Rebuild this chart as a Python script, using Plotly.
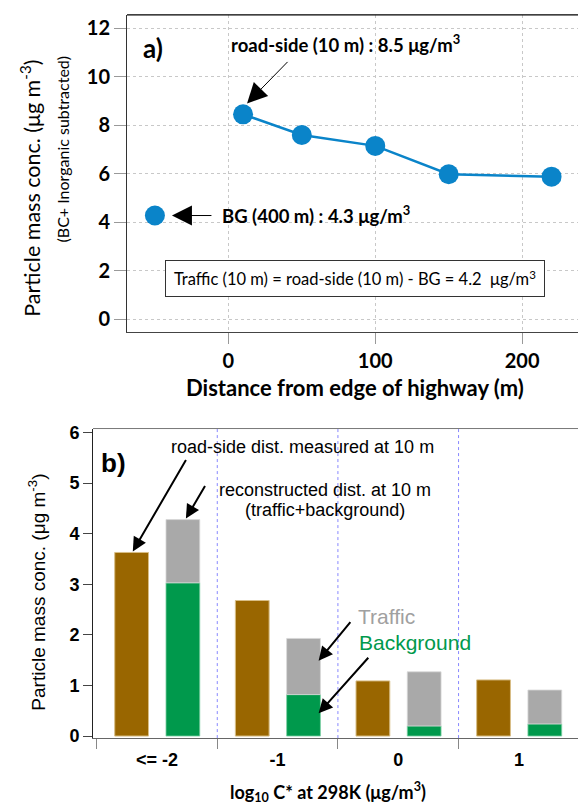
import plotly.graph_objects as go

# ---- Panel a data ----
dist_m = [10, 50, 100, 150, 220]
conc_roadside = [8.45, 7.6, 7.15, 5.98, 5.88]
bg_dist = [-50]
bg_conc = [4.28]
a_xticks = [0, 100, 200]
a_yticks = [0, 2, 4, 6, 8, 10, 12]

# ---- Panel b data ----
categories = ["<= -2", "-1", "0", "1"]
measured = [3.63, 2.68, 1.09, 1.11]
background = [3.03, 0.82, 0.20, 0.24]
traffic = [1.25, 1.11, 1.07, 0.67]
b_yticks = [0, 1, 2, 3, 4, 5, 6]

BLUE = "#0A84C9"
BROWN = "#996600"
GREEN = "#00994C"
GRAY = "#A9A9A9"
FA = "Lato"
FB = "Liberation Sans"

idx = list(range(len(categories)))
totals = [b + t for b, t in zip(background, traffic)]

fig = go.Figure()

# Panel a
fig.add_trace(go.Scatter(x=dist_m, y=conc_roadside, mode="lines+markers",
                         line=dict(color=BLUE, width=2.5),
                         marker=dict(color=BLUE, size=20),
                         xaxis="x", yaxis="y", showlegend=False))
fig.add_trace(go.Scatter(x=bg_dist, y=bg_conc, mode="markers",
                         marker=dict(color=BLUE, size=20),
                         xaxis="x", yaxis="y", showlegend=False))

# Panel b
fig.add_trace(go.Bar(x=idx, y=measured, offset=-0.35, width=0.28,
                     marker=dict(color=BROWN, line=dict(color="#D8BE86", width=1)),
                     xaxis="x2", yaxis="y2", showlegend=False))
fig.add_trace(go.Bar(x=idx, y=background, offset=0.075, width=0.28,
                     marker=dict(color=GREEN, line=dict(color="#7FCFA5", width=0.8)),
                     xaxis="x2", yaxis="y2", showlegend=False))
fig.add_trace(go.Bar(x=idx, y=traffic, base=background, offset=0.075, width=0.28,
                     marker=dict(color=GRAY, line=dict(color="#D8D8D8", width=0.8)),
                     xaxis="x2", yaxis="y2", showlegend=False))

W, H = 580, 807
fig.update_layout(
    width=W, height=H, margin=dict(l=0, r=0, t=0, b=0),
    plot_bgcolor="white", paper_bgcolor="white",
    barmode="overlay", showlegend=False,
    xaxis=dict(domain=[127 / W, 578 / W], anchor="y", range=[-69, 238],
               tickvals=a_xticks, ticks="outside", ticklen=11, tickcolor="#999",
               showline=True, linecolor="#444", linewidth=1,
               showgrid=True, gridcolor="#C8C8C8", griddash="dot", zeroline=False,
               tickfont=dict(family=FA, size=20, color="black", weight="bold")),
    yaxis=dict(domain=[1 - 332 / H, 1 - 9 / H], anchor="x", range=[-0.53, 12.55],
               tickvals=a_yticks, ticks="outside", ticklen=12, tickcolor="#999",
               showline=True, linecolor="#333", linewidth=1,
               showgrid=True, gridcolor="#C8C8C8", griddash="dot", zeroline=False,
               tickfont=dict(family=FA, size=20, color="black", weight="bold")),
    xaxis2=dict(domain=[93 / W, 578 / W], anchor="y2", range=[-0.53, 3.49],
                tickvals=idx, ticktext=categories, ticks="outside", ticklen=5,
                tickcolor="rgba(0,0,0,0)",
                minor=dict(tickvals=[i - 0.5 for i in idx] + [idx[-1] + 0.5],
                           ticks="outside", ticklen=10, tickcolor="#888", showgrid=False),
                showline=True, linecolor="#666", linewidth=1,
                showgrid=False, zeroline=False,
                tickfont=dict(family=FB, size=18, color="black", weight="bold")),
    yaxis2=dict(domain=[1 - 745 / H, 1 - 430 / H], anchor="x2", range=[-0.04, 6.08],
                tickvals=b_yticks, ticks="outside", ticklen=9, tickcolor="#444",
                showline=True, linecolor="#222", linewidth=1,
                showgrid=False, zeroline=False,
                tickfont=dict(family=FB, size=18, color="black", weight="bold")),
)

shapes = [
    dict(type="line", xref="x domain", yref="y domain", x0=0, x1=1, y0=1, y1=1,
         line=dict(color="black", width=1.2)),
    dict(type="line", xref="x2 domain", yref="y2 domain", x0=0, x1=1, y0=1, y1=1,
         line=dict(color="#777", width=1)),
]
for i in idx[:-1]:
    shapes.append(dict(type="line", xref="x2", yref="y2 domain", x0=i + 0.5, x1=i + 0.5,
                       y0=0, y1=1, line=dict(color="#8888FF", width=1, dash="dot"),
                       layer="below"))
fig.update_layout(shapes=shapes)

ann = []
C = dict(xanchor="center", yanchor="middle", showarrow=False)
# Panel a texts
ann.append(dict(x=-51, y=11.2, xref="x", yref="y", text="a)", **C,
                font=dict(family=FA, size=26, color="black", weight="bold")))
ann.append(dict(x=0.7, y=11.35, xref="x", yref="y", xanchor="left", yanchor="middle",
                text="road-side (10 m) : 8.5 μg/m<sup>3</sup>", showarrow=False,
                font=dict(family=FA, size=18.5, color="black", weight="bold")))
ann.append(dict(x=12.7, y=8.9, xref="x", yref="y", text="", showarrow=True,
                ax=42, ay=-43, arrowhead=2, arrowsize=4, arrowwidth=1,
                arrowcolor="black"))
ann.append(dict(x=-5.4, y=4.32, xref="x", yref="y", xanchor="left", yanchor="middle",
                text="BG (400 m) : 4.3 μg/m<sup>3</sup>", showarrow=False,
                font=dict(family=FA, size=18.5, color="black", weight="bold")))
ann.append(dict(x=-38.4, y=bg_conc[0], xref="x", yref="y", text="", showarrow=True,
                ax=41, ay=0, arrowhead=2, arrowsize=4, arrowwidth=1,
                arrowcolor="black"))
ann.append(dict(x=86.5, y=1.69, xref="x", yref="y",
                text="Traffic (10 m) = road-side (10 m) - BG = 4.2  μg/m<sup>3</sup>",
                **C, bordercolor="#333", borderwidth=1, borderpad=3,
                bgcolor="white", width=372, height=29,
                font=dict(family=FA, size=16.5, color="black")))
# Panel a axis titles
ann.append(dict(x=31 / W, y=1 - 186 / H, xref="paper", yref="paper", textangle=-90,
                text="Particle mass conc. (μg m<sup>-3</sup>)", **C,
                font=dict(family=FA, size=21.5, color="black")))
ann.append(dict(x=62 / W, y=1 - 146 / H, xref="paper", yref="paper", textangle=-90,
                text="(BC+ Inorganic subtracted)", **C,
                font=dict(family=FA, size=16, color="black")))
ann.append(dict(x=355 / W, y=1 - 388 / H, xref="paper", yref="paper",
                text="Distance from edge of highway (m)", **C,
                font=dict(family=FA, size=22, color="black", weight="bold")))

# Panel b texts
ann.append(dict(x=-0.357, y=5.39, xref="x2", yref="y2", text="b)", **C,
                font=dict(family=FB, size=26, color="black", weight="bold")))
ann.append(dict(x=1.21, y=5.71, xref="x2", yref="y2",
                text="road-side dist. measured at 10 m", **C,
                font=dict(family=FB, size=18, color="black")))
ann.append(dict(x=1.39, y=4.86, xref="x2", yref="y2",
                text="reconstructed dist. at 10 m", **C,
                font=dict(family=FB, size=18, color="black")))
ann.append(dict(x=1.39, y=4.47, xref="x2", yref="y2",
                text="(traffic+background)", **C,
                font=dict(family=FB, size=18, color="black")))
ann.append(dict(x=1.90, y=2.37, xref="x2", yref="y2", text="Traffic", **C,
                font=dict(family=FB, size=21, color="#A0A0A0")))
ann.append(dict(x=2.14, y=1.84, xref="x2", yref="y2", text="Background", **C,
                font=dict(family=FB, size=21, color=GREEN)))
for (tx, ty, ax, ay) in [(-0.2, measured[0] + 0.02, 54, -93),
                         (0.24, totals[0] + 0.02, 20, -34),
                         (1.34, 1.49, 33, -40),
                         (1.34, 0.45, 51, -57)]:
    ann.append(dict(x=tx, y=ty, xref="x2", yref="y2", text="", showarrow=True,
                    ax=ax, ay=ay, arrowhead=2, arrowsize=1.4, arrowwidth=2,
                    arrowcolor="black"))
# Panel b axis titles
ann.append(dict(x=37 / W, y=1 - 597 / H, xref="paper", yref="paper", textangle=-90,
                text="Particle mass conc. (μg m<sup>-3</sup>)", **C,
                font=dict(family=FB, size=19, color="black")))
ann.append(dict(x=328 / W, y=1 - 800 / H, xref="paper", yref="paper",
                text="log<sub>10</sub> C* at 298K (μg/m<sup>3</sup>)", **C,
                font=dict(family=FA, size=18, color="black", weight="bold")))
fig.update_layout(annotations=ann)

fig.write_html("out.html", config={"displayModeBar": False},
               post_script="document.body.style.margin='0px';"
                           "document.body.style.overflow='hidden';")
